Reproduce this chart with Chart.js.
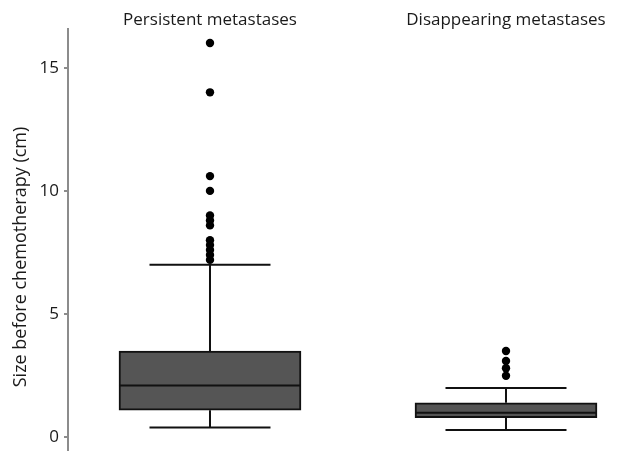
<!DOCTYPE html>
<html>
<head>
<meta charset="utf-8">
<script src="https://cdn.jsdelivr.net/npm/chart.js@4/dist/chart.umd.min.js"></script>
<style>
  html, body { margin: 0; padding: 0; background: #fff; }
  #wrap { width: 644px; height: 451px; }
</style>
</head>
<body>
<div id="wrap"><canvas id="c"></canvas></div>
<script>
// Box-plot summary for each group (cm)
const groups = ['Persistent metastases', 'Disappearing metastases'];
const whiskerLow = [0.4, 0.3];
const q1 = [1.1, 0.8];
const median = [2.1, 1.0];
const q3 = [3.5, 1.4];
const whiskerHigh = [7.0, 2.0];
// Outlying observations
const persistentOutliers = [16, 14, 10.6, 10, 9.0, 8.8, 8.6, 8.0, 7.8, 7.6, 7.4, 7.2];
const disappearingOutliers = [3.5, 3.1, 2.8, 2.5];
const yTicks = [0, 5, 10, 15];
const yTitle = 'Size before chemotherapy (cm)';

const FONT = "'Open Sans', 'DejaVu Sans', sans-serif";

// Whiskers, caps and medians drawn on top of the floating bars
const boxExtras = {
  id: 'boxExtras',
  afterDatasetsDraw(chart, args, opts) {
    const { ctx, scales: { x, y } } = chart;
    ctx.save();
    ctx.strokeStyle = '#111';
    ctx.lineWidth = opts.lineWidth;
    ctx.lineCap = 'butt';
    groups.forEach((g, i) => {
      const cx = x.getPixelForValue(i);
      const half = opts.capWidth / 2;
      const boxHalf = opts.boxWidth / 2;
      const yLo = y.getPixelForValue(whiskerLow[i]);
      const yQ1 = y.getPixelForValue(q1[i]);
      const yQ3 = y.getPixelForValue(q3[i]);
      const yHi = y.getPixelForValue(whiskerHigh[i]);
      const yMed = y.getPixelForValue(median[i]);
      ctx.beginPath();
      ctx.moveTo(cx, yQ3); ctx.lineTo(cx, yHi);
      ctx.moveTo(cx, yQ1); ctx.lineTo(cx, yLo);
      ctx.moveTo(cx - half, yHi); ctx.lineTo(cx + half, yHi);
      ctx.moveTo(cx - half, yLo); ctx.lineTo(cx + half, yLo);
      ctx.moveTo(cx - boxHalf, yMed); ctx.lineTo(cx + boxHalf, yMed);
      ctx.stroke();
    });
    ctx.restore();
  }
};

// Rotated y-axis caption, placed a little below the axis midpoint
const yCaption = {
  id: 'yCaption',
  afterDraw(chart, args, opts) {
    const { ctx } = chart;
    ctx.save();
    ctx.translate(opts.x, opts.y);
    ctx.rotate(-Math.PI / 2);
    ctx.font = `${opts.size}px ${FONT}`;
    ctx.fillStyle = '#1a1a1a';
    ctx.textAlign = 'center';
    ctx.textBaseline = 'middle';
    ctx.fillText(yTitle, 0, 0);
    ctx.restore();
  }
};

function noEdgePadding(scale) {
  scale.paddingTop = 0;
  scale.paddingBottom = 0;
  scale.paddingLeft = 0;
  scale.paddingRight = 0;
}

new Chart(document.getElementById('c'), {
  type: 'bar',
  data: {
    datasets: [
      {
        type: 'bar',
        label: 'IQR',
        data: groups.map((g, i) => ({ x: i, y: [q1[i], q3[i]] })),
        backgroundColor: '#555555',
        borderColor: '#111111',
        borderWidth: 2,
        borderSkipped: false,
        barThickness: 182,
        order: 2
      },
      {
        type: 'scatter',
        label: groups[0],
        data: persistentOutliers.map(v => ({ x: 0, y: v })),
        backgroundColor: '#000',
        borderColor: '#000',
        pointRadius: 4.2,
        borderWidth: 0,
        order: 1
      },
      {
        type: 'scatter',
        label: groups[1],
        data: disappearingOutliers.map(v => ({ x: 1, y: v })),
        backgroundColor: '#000',
        borderColor: '#000',
        pointRadius: 4.2,
        borderWidth: 0,
        order: 1
      }
    ]
  },
  options: {
    responsive: true,
    maintainAspectRatio: false,
    animation: false,
    layout: { autoPadding: false, padding: { top: 0, right: 4, bottom: 0, left: 0 } },
    plugins: {
      legend: { display: false },
      tooltip: { enabled: false },
      boxExtras: { lineWidth: 2, capWidth: 121, boxWidth: 182 },
      yCaption: { x: 21, y: 257, size: 18 }
    },
    scales: {
      x: {
        type: 'linear',
        position: 'top',
        offset: false,
        min: -0.4797,
        max: 1.4527,
        grid: { display: false, offset: false },
        border: { display: false },
        afterBuildTicks(scale) { scale.ticks = groups.map((g, i) => ({ value: i })); },
        afterFit(scale) { scale.height = 29; noEdgePadding(scale); },
        ticks: {
          autoSkip: false,
          maxRotation: 0,
          padding: -9,
          color: '#1a1a1a',
          font: { family: FONT, size: 17 },
          callback: (v) => groups[v]
        }
      },
      y: {
        type: 'linear',
        min: -0.556,
        max: 16.57,
        afterBuildTicks(scale) { scale.ticks = yTicks.map(v => ({ value: v })); },
        afterFit(scale) { scale.width = 68; noEdgePadding(scale); },
        border: { display: true, color: '#8c8c8c', width: 2 },
        grid: { drawOnChartArea: false, drawTicks: true, tickLength: 4, color: '#8c8c8c', lineWidth: 2 },
        ticks: {
          padding: 5,
          color: '#1a1a1a',
          font: { family: FONT, size: 17 }
        }
      }
    }
  },
  plugins: [boxExtras, yCaption]
});
</script>
</body>
</html>
